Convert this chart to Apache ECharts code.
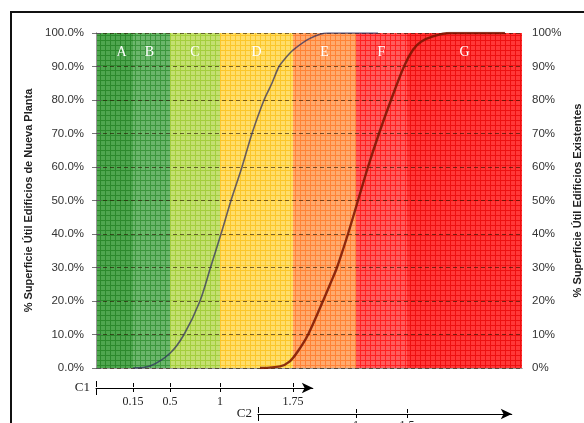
<!DOCTYPE html>
<html>
<head>
<meta charset="utf-8">
<script src="https://cdn.jsdelivr.net/npm/echarts@6/dist/echarts.min.js"></script>
<style>
  html, body { margin: 0; padding: 0; background: #fff; }
  #chart { width: 584px; height: 423px; }
</style>
</head>
<body>
<div id="chart"></div>
<script>
// Horizontal positions use a plain scale: 0 = left edge of the plot, 100 = right edge.
const bandNames = ['A', 'B', 'C', 'D', 'E', 'F', 'G'];
const bandEdges = [0, 8.69, 17.37, 29.11, 46.24, 61.03, 73.0, 100];

// Index scales drawn under the plot (labels sit on band edges)
const c1Labels = ['0.15', '0.5', '1', '1.75'];   // edges 1..4
const c2Labels = ['1', '1.5'];                   // edges 5..6
const c1Range = [0, 50.9];
const c2Range = [38.0, 97.6];

// Cumulative share of floor area — new buildings (left axis)
const newPos = [8.69, 12.7, 17.37, 20.66, 24.41, 26.88, 29.34, 31.69, 34.27, 36.62, 39.44, 41.3, 42.96, 44.6, 46.24, 50.23, 54.46, 66.2];
const newPct = [0, 0.6, 4.4, 10, 20, 30, 40, 50, 60, 70, 80, 85, 90, 92.7, 94.9, 98.4, 100, 100];

// Cumulative share of floor area — existing buildings (right axis)
const oldPos = [38.5, 43.2, 45.5, 47.4, 49.8, 53.29, 54.95, 56.57, 59.15, 61.5, 63.85, 66.43, 69.25, 72.3, 74.41, 76.29, 79.11, 83.1, 96.0];
const oldPct = [0, 0.5, 2, 5, 10, 20, 25, 30, 40, 50, 60, 70, 80, 90, 95, 97.4, 99, 100, 100];

// Band fills: cell colour and grid-line colour of the woven texture
const bandCell = ['#4fa64f', '#6bb66b', '#c4e070', '#ffde6a', '#ffaa6e', '#ff5c5c', '#ff3838'];
const bandLine = ['#2c892c', '#3c963c', '#a4ce3c', '#fbc62a', '#ff8236', '#ff2020', '#ee1010'];

const plotLeft = 96, plotTop = 33, plotWidth = 426, plotHeight = 335;

function texture(cell, line) {
  const c = document.createElement('canvas');
  c.width = 5; c.height = 5;
  const g = c.getContext('2d');
  g.fillStyle = cell; g.fillRect(0, 0, 5, 5);
  g.fillStyle = line; g.fillRect(0, 0, 5, 1); g.fillRect(0, 0, 1, 5);
  return { image: c, repeat: 'repeat' };
}

function edgeLabel(v, labels, firstEdge) {
  for (let i = 0; i < labels.length; i++) {
    if (Math.abs(bandEdges[firstEdge + i] - v) < 1e-6) return labels[i];
  }
  return '';
}

const serif = 'Liberation Serif, Times New Roman, serif';
const sans = 'Liberation Sans, Arial, sans-serif';

const c1Left = plotLeft + plotWidth * c1Range[0] / 100;
const c1Width = plotWidth * (c1Range[1] - c1Range[0]) / 100;
const c2Left = plotLeft + plotWidth * c2Range[0] / 100;
const c2Width = plotWidth * (c2Range[1] - c2Range[0]) / 100;

const c1Ticks = bandEdges.slice(0, 5);
const c2Ticks = [c2Range[0]].concat(bandEdges.slice(5, 7));

// The first band's letter sits a little right of centre
const bandLabelShift = { A: [7, 0], B: [-2, 0] };

function scaleAxes(grid, range, ticks, labelEdges, labels, firstEdge, name, labelMargin) {
  const base = {
    gridIndex: grid, type: 'value', min: range[0], max: range[1],
    splitLine: { show: false }
  };
  return [
    Object.assign({}, base, {
      position: 'bottom',
      name: name, nameLocation: 'start', nameGap: 6,
      nameTextStyle: { fontFamily: serif, fontSize: 13, color: '#222' },
      axisLine: { show: true, symbol: ['none', 'arrow'], symbolSize: [8, 11], lineStyle: { color: '#000', width: 1 } },
      axisTick: { show: true, customValues: ticks, length: 4, lineStyle: { color: '#000' } },
      axisLabel: {
        show: true, customValues: labelEdges, margin: labelMargin,
        fontFamily: serif, fontSize: 12, color: '#222',
        formatter: v => edgeLabel(v, labels, firstEdge)
      }
    }),
    Object.assign({}, base, {
      position: 'top',
      axisLine: { show: false },
      axisTick: { show: true, customValues: ticks, length: 4, lineStyle: { color: '#000' } },
      axisLabel: { show: false }
    }),
    // taller bar marking where the scale starts
    Object.assign({}, base, {
      position: 'bottom',
      axisLine: { show: false },
      axisTick: { show: true, customValues: [range[0]], length: 7, lineStyle: { color: '#000' } },
      axisLabel: { show: false }
    }),
    Object.assign({}, base, {
      position: 'top',
      axisLine: { show: false },
      axisTick: { show: true, customValues: [range[0]], length: 6, lineStyle: { color: '#000' } },
      axisLabel: { show: false }
    })
  ];
}

const chart = echarts.init(document.getElementById('chart'), null, { renderer: 'canvas' });

chart.setOption({
  animation: false,
  backgroundColor: '#fff',
  grid: [
    { left: plotLeft, top: plotTop, width: plotWidth, height: plotHeight, outerBoundsMode: 'none' },
    { left: c1Left, top: 387, width: c1Width, height: 1, outerBoundsMode: 'none' },
    { left: c2Left, top: 413, width: c2Width, height: 1, outerBoundsMode: 'none' }
  ],
  xAxis: [
    { gridIndex: 0, type: 'value', min: 0, max: 100, position: 'bottom',
      axisLine: { lineStyle: { color: '#999' } }, axisTick: { show: false },
      axisLabel: { show: false }, splitLine: { show: false } },
    { gridIndex: 0, type: 'value', min: 0, max: 100, position: 'top',
      axisLine: { lineStyle: { color: '#999' } }, axisTick: { show: false },
      axisLabel: { show: false }, splitLine: { show: false } }
  ].concat(
    scaleAxes(1, c1Range, c1Ticks, bandEdges.slice(1, 5), c1Labels, 1, 'C1', 8),
    scaleAxes(2, c2Range, c2Ticks, bandEdges.slice(5, 7), c2Labels, 5, 'C2', 6)
  ),
  yAxis: [
    { gridIndex: 0, type: 'value', min: 0, max: 100, interval: 10, position: 'left', z: 3,
      name: '% Superficie Útil Edificios de Nueva Planta',
      nameLocation: 'middle', nameRotate: 90, nameGap: 55,
      nameTextStyle: { fontFamily: sans, fontSize: 11, fontWeight: 'bold', color: '#222' },
      axisLine: { show: true, lineStyle: { color: '#999' } },
      axisTick: { show: true, length: 4, lineStyle: { color: '#777' } },
      axisLabel: { margin: 12, fontFamily: sans, fontSize: 11.5, color: '#333',
        formatter: v => v.toFixed(1) + '%' },
      splitLine: { show: true, lineStyle: { color: 'rgba(40,20,0,0.6)', type: [4, 3], width: 1 } } },
    { gridIndex: 0, type: 'value', min: 0, max: 100, interval: 10, position: 'right', z: 3,
      name: '% Superficie Útil Edificios Existentes',
      nameLocation: 'middle', nameRotate: 90, nameGap: 43,
      nameTextStyle: { fontFamily: sans, fontSize: 11, fontWeight: 'bold', color: '#222' },
      axisLine: { show: true, lineStyle: { color: '#999' } },
      axisTick: { show: true, length: 5, lineStyle: { color: '#555' } },
      axisLabel: { margin: 10, fontFamily: sans, fontSize: 11.5, color: '#333',
        formatter: v => v + '%' },
      splitLine: { show: false } },
    { gridIndex: 1, type: 'value', show: false },
    { gridIndex: 2, type: 'value', show: false }
  ],
  series: [
    {
      name: 'Clases', type: 'line', xAxisIndex: 0, yAxisIndex: 0, data: [], z: 1,
      silent: true,
      markArea: {
        silent: true,
        label: { show: true, position: 'insideTop', distance: 12,
          fontFamily: serif, fontSize: 14, color: '#fff' },
        data: bandNames.map((n, i) => [
          { name: n, xAxis: bandEdges[i],
            itemStyle: { color: texture(bandCell[i], bandLine[i]) },
            label: { offset: bandLabelShift[n] || [0, 0] } },
          { xAxis: bandEdges[i + 1] }
        ])
      }
    },
    {
      name: 'Edificios de Nueva Planta', type: 'line', xAxisIndex: 0, yAxisIndex: 0, z: 5,
      data: newPos.map((x, i) => [x, newPct[i]]),
      smooth: 0.3, showSymbol: false,
      lineStyle: { color: '#2e2e60', width: 1.6, opacity: 0.72 }
    },
    {
      name: 'Edificios Existentes', type: 'line', xAxisIndex: 0, yAxisIndex: 1, z: 5,
      data: oldPos.map((x, i) => [x, oldPct[i]]),
      smooth: 0.3, showSymbol: false,
      lineStyle: { color: '#7a1400', width: 2.4, opacity: 0.85 }
    }
  ],
  graphic: [
    { type: 'rect', z: 10, silent: true,
      shape: { x: 11, y: 12, width: 620, height: 460 },
      style: { fill: 'none', stroke: '#111', lineWidth: 2 } }
  ]
});
</script>
</body>
</html>
